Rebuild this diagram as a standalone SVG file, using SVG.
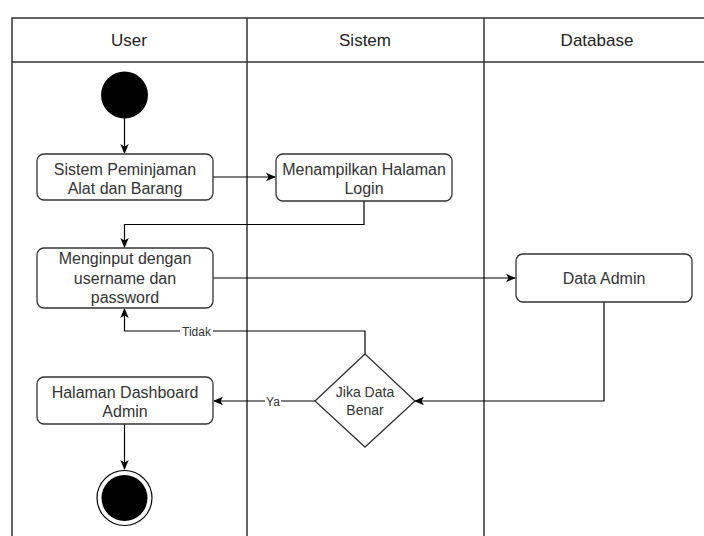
<svg xmlns="http://www.w3.org/2000/svg" width="704" height="536" viewBox="0 0 704 536">
<defs>
<style>
.lane{fill:none;stroke:#333;stroke-width:1.5}
.hdr{font-family:"Liberation Sans",Arial,sans-serif;font-size:17px;fill:#222;text-anchor:middle}
.box{fill:#fff;stroke:#333;stroke-width:1.3}
.t{font-family:"Liberation Sans",Arial,sans-serif;font-size:16px;fill:#333;text-anchor:middle}
.d{font-family:"Liberation Sans",Arial,sans-serif;font-size:14px;fill:#333;text-anchor:middle}
.lbl{font-family:"Liberation Sans",Arial,sans-serif;font-size:12px;fill:#333;text-anchor:middle}
.e{fill:none;stroke:#000;stroke-width:1.2}
</style>
<marker id="arr" viewBox="0 0 10 10" refX="9" refY="5" markerWidth="10" markerHeight="10" markerUnits="userSpaceOnUse" orient="auto">
<path d="M0,0.8 L10,5 L0,9.2 L2.5,5 Z" fill="#000"/>
</marker>
</defs>
<rect width="704" height="536" fill="#fff"/>
<g id="swimlanes">
<rect class="lane" x="12" y="18" width="720" height="540"/>
<line class="lane" x1="12" y1="62" x2="704" y2="62"/>
<line class="lane" x1="247" y1="18" x2="247" y2="540"/>
<line class="lane" x1="484" y1="18" x2="484" y2="540"/>
<text class="hdr" x="129" y="46">User</text>
<text class="hdr" x="365" y="46">Sistem</text>
<text class="hdr" x="597" y="46">Database</text>
</g>
<g id="connectors">
<path class="e" d="M124.5,118 V153" marker-end="url(#arr)"/>
<path class="e" d="M213,177 H275" marker-end="url(#arr)"/>
<path class="e" d="M364,201 V224.5 H124.5 V247" marker-end="url(#arr)"/>
<path class="e" d="M213,278 H515" marker-end="url(#arr)"/>
<path class="e" d="M604,302 V401 H415" marker-end="url(#arr)"/>
<path class="e" d="M365,354 V331 H124.5 V309" marker-end="url(#arr)"/>
<path class="e" d="M315,401 H214" marker-end="url(#arr)"/>
<path class="e" d="M124.5,424 V469" marker-end="url(#arr)"/>
<rect x="180" y="324" width="33" height="14" fill="#fff"/>
<text class="lbl" x="196.5" y="335.5">Tidak</text>
<rect x="265" y="394" width="16" height="14" fill="#fff"/>
<text class="lbl" x="273" y="405.5">Ya</text>
</g>
<g id="start">
<circle cx="124.5" cy="95" r="23.5" fill="#000"/>
</g>
<g id="n1">
<rect class="box" x="37" y="154" width="176" height="46" rx="7"/>
<text class="t" x="125" y="175">Sistem Peminjaman</text>
<text class="t" x="125" y="194">Alat dan Barang</text>
</g>
<g id="n2">
<rect class="box" x="276" y="154" width="176" height="47" rx="7"/>
<text class="t" x="364" y="175">Menampilkan Halaman</text>
<text class="t" x="364" y="194">Login</text>
</g>
<g id="n3">
<rect class="box" x="37" y="248" width="176" height="60" rx="7"/>
<text class="t" x="125" y="264">Menginput dengan</text>
<text class="t" x="125" y="284">username dan</text>
<text class="t" x="125" y="303">password</text>
</g>
<g id="n4">
<rect class="box" x="516" y="254" width="176" height="48" rx="7"/>
<text class="t" x="604" y="284">Data Admin</text>
</g>
<g id="decision">
<polygon class="box" points="365,354 415,401 365,447 315,401"/>
<text class="d" x="365" y="396.5">Jika Data</text>
<text class="d" x="365" y="415">Benar</text>
</g>
<g id="n5">
<rect class="box" x="37" y="377" width="176" height="47" rx="7"/>
<text class="t" x="125" y="397.5">Halaman Dashboard</text>
<text class="t" x="125" y="416.5">Admin</text>
</g>
<g id="end">
<circle cx="124.5" cy="498" r="27.5" fill="#fff" stroke="#000" stroke-width="1.2"/>
<circle cx="124.5" cy="498" r="23" fill="#000"/>
</g>
</svg>
